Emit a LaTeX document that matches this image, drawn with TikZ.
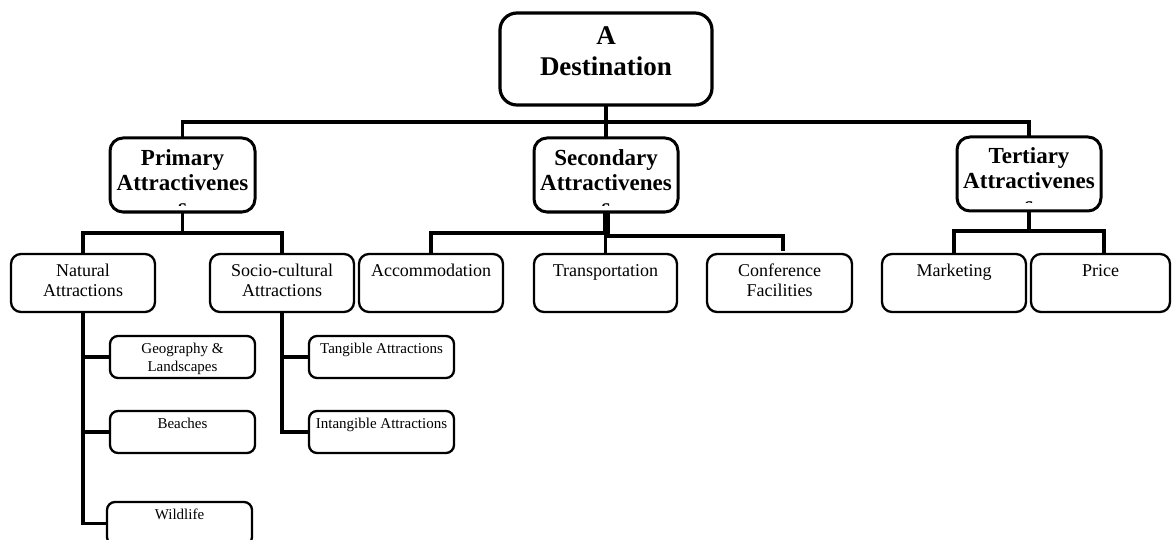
\documentclass[tikz,border=0pt]{standalone}
\usepackage{fontspec}
\setmainfont{Liberation Serif}
\usetikzlibrary{calc}
\tikzset{
  boxbase/.style={draw=black, fill=white, rectangle, inner sep=0pt, outer sep=0pt, anchor=north west},
  rootbox/.style={boxbase, line width=3.2pt, rounded corners=17pt},
  lvlone/.style={boxbase, line width=3pt, rounded corners=13pt},
  lvltwo/.style={boxbase, line width=2.3pt, rounded corners=10pt},
  lvlthree/.style={boxbase, line width=2.3pt, rounded corners=8pt},
  txt/.style={inner sep=0pt, outer sep=0pt, anchor=base},
  tzero/.style={txt, font=\fontsize{27}{31}\selectfont\bfseries},
  tone/.style={txt, font=\fontsize{23}{24.5}\selectfont\bfseries},
  ttwo/.style={txt, font=\fontsize{18}{20}\selectfont},
  tthree/.style={txt, font=\fontsize{15}{18}\selectfont},
  conn/.style={draw=black, line width=3.6pt},
}
\newcommand{\pbox}[1]{\parbox[t]{220pt}{\centering #1}}
\begin{document}
\begin{tikzpicture}[x=1pt,y=-1pt]
\clip (0,0) rectangle (1172,540);
\fill[white] (0,0) rectangle (1172,540);

% heights of the buses
\coordinate (busA) at (0,122);
\coordinate (busP) at (0,233);
\coordinate (busSL) at (0,233);
\coordinate (busSR) at (0,236);
\coordinate (busT) at (0,231);

% boxes
\node[rootbox, minimum width=212pt, minimum height=92pt] (root) at (500,13) {};
\node[lvlone, minimum width=145pt, minimum height=74pt] (pri) at (110,138) {};
\node[lvlone, minimum width=144pt, minimum height=74pt] (sec) at (534,138) {};
\node[lvlone, minimum width=144pt, minimum height=74pt] (ter) at (957,137) {};

\node[lvltwo, minimum width=144pt, minimum height=58pt] (nat) at (11,254) {};
\node[lvltwo, minimum width=144pt, minimum height=58pt] (soc) at (210,254) {};
\node[lvltwo, minimum width=144pt, minimum height=58pt] (acc) at (359,254) {};
\node[lvltwo, minimum width=143pt, minimum height=58pt] (tra) at (534,254) {};
\node[lvltwo, minimum width=145pt, minimum height=58pt] (con) at (707,254) {};
\node[lvltwo, minimum width=144pt, minimum height=58pt] (mkt) at (882,254) {};
\node[lvltwo, minimum width=139pt, minimum height=58pt] (prc) at (1031,254) {};

\node[lvlthree, minimum width=145pt, minimum height=42pt] (geo) at (110,336) {};
\node[lvlthree, minimum width=145pt, minimum height=42pt] (bea) at (110,411) {};
\node[lvlthree, minimum width=145pt, minimum height=43pt] (wil) at (107,502) {};
\node[lvlthree, minimum width=145pt, minimum height=42pt] (tan) at (309,336) {};
\node[lvlthree, minimum width=145pt, minimum height=42pt] (int) at (309,411) {};

% connectors
\draw[conn] (root.south) -- (sec.north);
\draw[conn] (pri.north) -- (pri.north |- busA) -- (ter.north |- busA) -- (ter.north);

\draw[conn] (pri.south) -- (pri.south |- busP);
\draw[conn] (nat.north) -- (nat.north |- busP) -- (soc.north |- busP) -- (soc.north);

\draw[conn] ([xshift=-1pt]sec.south) -- ([xshift=-1pt]sec.south |- busSL);
\draw[conn] ([xshift=2.5pt]sec.south) -- ([xshift=2.5pt]sec.south |- busSR);
\draw[conn] (acc.north) -- (acc.north |- busSL) -- ([xshift=2.5pt]sec.south |- busSL);
\draw[conn] (tra.north) -- (tra.north |- busSL);
\draw[conn] ([xshift=-1pt]sec.south |- busSR) -- ([xshift=3.5pt]con.north |- busSR) -- ([xshift=3.5pt,yshift=3pt]con.north);

\draw[conn] (ter.south) -- (ter.south |- busT);
\draw[conn] (mkt.north) -- (mkt.north |- busT) -- ([xshift=3.5pt]prc.north |- busT) -- ([xshift=3.5pt]prc.north);

\draw[conn] (nat.south) |- (wil.west);
\draw[conn] (nat.south |- geo.west) -- (geo.west);
\draw[conn] (nat.south |- bea.west) -- (bea.west);
\draw[conn] (soc.south) |- (int.west);
\draw[conn] (soc.south |- tan.west) -- (tan.west);

% texts
\node[tzero] (root-t) at ($(root.north)+(0,32)$) {\pbox{A\\Destination}};

\begin{scope}
\clip ($(pri.north west)+(2,2)$) rectangle ($(pri.south east)+(-2,-6)$);
\node[tone] (pri-t) at ($(pri.north)+(0,28)$) {\pbox{Primary\\Attractivenes\\s}};
\end{scope}
\begin{scope}
\clip ($(sec.north west)+(2,2)$) rectangle ($(sec.south east)+(-2,-6)$);
\node[tone] (sec-t) at ($(sec.north)+(0,28)$) {\pbox{Secondary\\Attractivenes\\s}};
\end{scope}
\begin{scope}
\clip ($(ter.north west)+(2,2)$) rectangle ($(ter.south east)+(-2,-8.5)$);
\node[tone] (ter-t) at ($(ter.north)+(0,27)$) {\pbox{Tertiary\\Attractivenes\\s}};
\end{scope}

\node[ttwo] (nat-t) at ($(nat.north)+(0,22)$) {\pbox{Natural\\Attractions}};
\node[ttwo] (soc-t) at ($(soc.north)+(0,22)$) {\pbox{Socio-cultural\\Attractions}};
\node[ttwo] (acc-t) at ($(acc.north)+(0,22)$) {\pbox{Accommodation}};
\node[ttwo] (tra-t) at ($(tra.north)+(0,22)$) {\pbox{Transportation}};
\node[ttwo] (con-t) at ($(con.north)+(0,22)$) {\pbox{Conference\\Facilities}};
\node[ttwo] (mkt-t) at ($(mkt.north)+(0,22)$) {\pbox{Marketing}};
\node[ttwo] (prc-t) at ($(prc.north)+(0,22)$) {\pbox{Price}};

\node[tthree] (geo-t) at ($(geo.north)+(0,17)$) {\pbox{Geography \&\\Landscapes}};
\node[tthree] (bea-t) at ($(bea.north)+(0,17)$) {\pbox{Beaches}};
\node[tthree] (wil-t) at ($(wil.north)+(0,17)$) {\pbox{Wildlife}};
\node[tthree] (tan-t) at ($(tan.north)+(0,17)$) {\pbox{Tangible Attractions}};
\node[tthree] (int-t) at ($(int.north)+(0,17)$) {\pbox{Intangible Attractions}};
\end{tikzpicture}
\end{document}
